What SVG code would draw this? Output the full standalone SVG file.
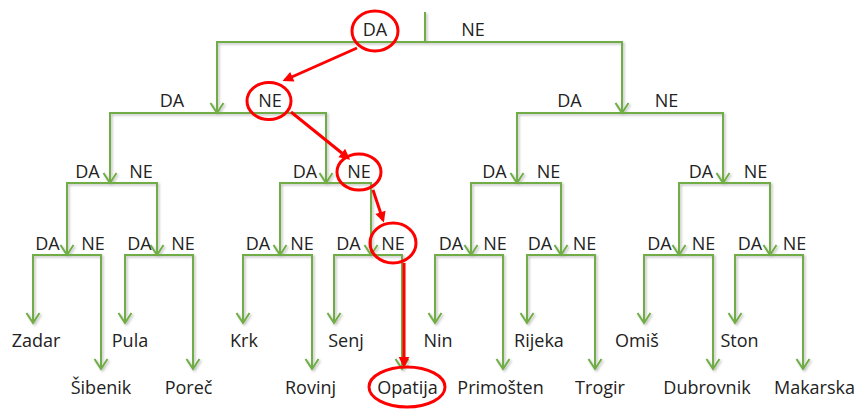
<svg xmlns="http://www.w3.org/2000/svg" width="861" height="410" viewBox="0 0 861 410">
<style>
text{font-family:"Open Sans","Noto Sans","Liberation Sans",sans-serif;font-size:18px;fill:#222;text-anchor:middle}
.g{fill:none;stroke:#70AD47;stroke-width:2}
.ga{marker-end:url(#ga)}
.gb{marker-start:url(#ga);marker-end:url(#ga)}
.r{fill:none;stroke:#FF0000;stroke-width:3}
.ra{marker-end:url(#ra)}
</style>
<defs>
<marker id="ga" markerUnits="userSpaceOnUse" orient="auto-start-reverse" markerWidth="14" markerHeight="16" viewBox="-12 -8 14 16" refX="0" refY="0" overflow="visible">
<path d="M-10,-6.5 L0,0 L-10,6.5" fill="none" stroke="#70AD47" stroke-width="2"/>
</marker>
<marker id="ra" markerUnits="userSpaceOnUse" orient="auto" markerWidth="16" markerHeight="14" viewBox="-14 -7 18 14" refX="-3" refY="0" overflow="visible">
<path d="M-12,-6 L0,0 L-12,6 z" fill="#FF0000"/>
</marker>
<filter id="sh" x="-5%" y="-5%" width="110%" height="110%">
<feDropShadow dx="1.5" dy="1.5" stdDeviation="1" flood-color="#000" flood-opacity="0.25"/>
</filter>
</defs>

<g id="connectors" filter="url(#sh)">
<path class="g" d="M425,12 V42"/>
<path class="g gb" d="M217,113 V42 H622 V113"/>
<path class="g" d="M110,183 V113 H326 V183"/>
<path class="g ga" d="M110,113 V183"/>
<path class="g ga" d="M326,113 V183"/>
<path class="g" d="M517,183 V113 H723 V183"/>
<path class="g ga" d="M517,113 V183"/>
<path class="g ga" d="M723,113 V183"/>

<path class="g" d="M67,255 V183 H157 V255"/>
<path class="g ga" d="M67,183 V255"/>
<path class="g ga" d="M157,183 V255"/>
<path class="g" d="M280,255 V183 H371 V255"/>
<path class="g ga" d="M280,183 V255"/>
<path class="g ga" d="M371,183 V255"/>
<path class="g" d="M471,255 V183 H561 V255"/>
<path class="g ga" d="M471,183 V255"/>
<path class="g ga" d="M561,183 V255"/>
<path class="g" d="M679,255 V183 H770 V255"/>
<path class="g ga" d="M679,183 V255"/>
<path class="g ga" d="M770,183 V255"/>

<path class="g gb" d="M33,323 V255 H101 V369"/>
<path class="g gb" d="M125,323 V255 H193 V369"/>
<path class="g gb" d="M243,323 V255 H312 V369"/>
<path class="g gb" d="M334,323 V255 H402 V369"/>
<path class="g gb" d="M435,323 V255 H503 V369"/>
<path class="g gb" d="M527,323 V255 H595 V369"/>
<path class="g gb" d="M644,323 V255 H713 V369"/>
<path class="g gb" d="M735,323 V255 H803 V369"/>
</g>

<g id="root">
<text x="375" y="36">DA</text>
<text x="473" y="36">NE</text>
</g>
<g id="n-L"><text x="172" y="107">DA</text><text x="270" y="107">NE</text></g>
<g id="n-R"><text x="569.5" y="107">DA</text><text x="666.5" y="107">NE</text></g>
<g id="n-LL"><text x="87.5" y="178">DA</text><text x="141" y="178">NE</text></g>
<g id="n-LR"><text x="305" y="178">DA</text><text x="359" y="178">NE</text></g>
<g id="n-RL"><text x="494.5" y="178">DA</text><text x="548.5" y="178">NE</text></g>
<g id="n-RR"><text x="701" y="178">DA</text><text x="755.5" y="178">NE</text></g>
<g id="n-LLL"><text x="47.5" y="250">DA</text><text x="93" y="250">NE</text></g>
<g id="n-LLR"><text x="139.5" y="250">DA</text><text x="183" y="250">NE</text></g>
<g id="n-LRL"><text x="258" y="250">DA</text><text x="302" y="250">NE</text></g>
<g id="n-LRR"><text x="348.5" y="250">DA</text><text x="393" y="250">NE</text></g>
<g id="n-RLL"><text x="451" y="250">DA</text><text x="495" y="250">NE</text></g>
<g id="n-RLR"><text x="540" y="250">DA</text><text x="584.5" y="250">NE</text></g>
<g id="n-RRL"><text x="659.5" y="250">DA</text><text x="703.5" y="250">NE</text></g>
<g id="n-RRR"><text x="750" y="250">DA</text><text x="794.5" y="250">NE</text></g>

<g id="leaf-zadar"><text x="36" y="347">Zadar</text></g>
<g id="leaf-sibenik"><text x="101" y="394">Šibenik</text></g>
<g id="leaf-pula"><text x="130" y="347">Pula</text></g>
<g id="leaf-porec"><text x="188.5" y="394">Poreč</text></g>
<g id="leaf-krk"><text x="244" y="347">Krk</text></g>
<g id="leaf-rovinj"><text x="310.5" y="394">Rovinj</text></g>
<g id="leaf-senj"><text x="346" y="347">Senj</text></g>
<g id="leaf-opatija"><text x="407.5" y="394">Opatija</text></g>
<g id="leaf-nin"><text x="438" y="347">Nin</text></g>
<g id="leaf-primosten"><text x="500.5" y="394">Primošten</text></g>
<g id="leaf-rijeka"><text x="539" y="347">Rijeka</text></g>
<g id="leaf-trogir"><text x="600" y="394">Trogir</text></g>
<g id="leaf-omis"><text x="637" y="347">Omiš</text></g>
<g id="leaf-dubrovnik"><text x="707" y="394">Dubrovnik</text></g>
<g id="leaf-ston"><text x="739.5" y="347">Ston</text></g>
<g id="leaf-makarska"><text x="814.5" y="394">Makarska</text></g>

<g id="path-highlight">
<ellipse class="r" cx="375" cy="31" rx="23" ry="20"/>
<ellipse class="r" cx="269" cy="101" rx="22" ry="18.5"/>
<ellipse class="r" cx="359" cy="172" rx="22" ry="18"/>
<ellipse class="r" cx="393" cy="243" rx="23" ry="20"/>
<ellipse class="r" cx="407" cy="387" rx="38" ry="20"/>
<path class="r ra" d="M357,48 L285,80"/>
<path class="r ra" d="M291,112 L348,158"/>
<path class="r ra" d="M373,190 L383,220"/>
<path class="r ra" d="M404,263 V365"/>
</g>
</svg>
